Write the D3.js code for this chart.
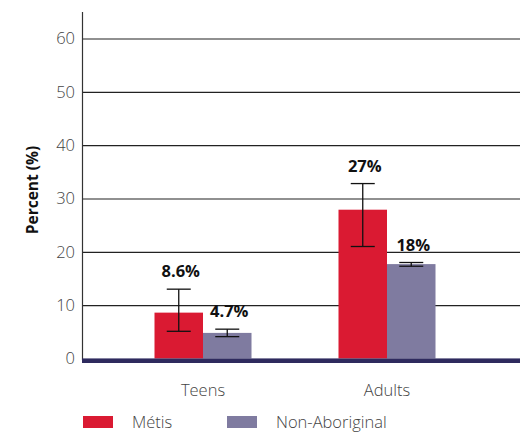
<!DOCTYPE html>
<html><head><meta charset="utf-8">
<script src="https://cdn.jsdelivr.net/npm/d3@7"></script>
<style>body{margin:0;background:#fff}svg{display:block}</style>
</head><body>
<script>
const categories = ["Teens", "Adults"];
const seriesNames = ["Métis", "Non-Aboriginal"];
const metisValues = [8.6, 27.9];
const nonAbValues = [4.8, 17.7];
const metisLow = [5.1, 21.0];
const metisHigh = [13.0, 32.8];
const nonAbLow = [4.1, 17.3];
const nonAbHigh = [5.5, 18.0];
const metisLabels = ["8.6%", "27%"];
const nonAbLabels = ["4.7%", "18%"];
const yTicks = [0, 10, 20, 30, 40, 50, 60];
const colors = ["#DA1A32", "#7F7BA0"];

const W = 520, H = 432;
const svg = d3.select("body").append("svg").attr("width", W).attr("height", H);
const font = "'Open Sans', sans-serif";

const y = d3.scaleLinear().domain([0, 60]).range([358.5, 38.5]);
const groupX = d3.scalePoint().domain(categories).range([203, 387]);
const barW = 48.5;
const xs = d3.scaleBand().domain(seriesNames).range([-barW, barW]).padding(0);

// gridlines
const gy = svg.append("g").attr("transform", "translate(82,0)")
  .call(d3.axisLeft(y).tickValues(yTicks).tickSize(-(W - 82)).tickFormat(d => d));
gy.select(".domain").remove();
gy.selectAll(".tick line").attr("stroke", d => d === 0 ? "#b8b6cc" : "#222").attr("stroke-width", 1.2);
gy.selectAll(".tick text").attr("x", -7).attr("font-family", font).attr("font-weight", 300)
  .attr("font-size", 16.5).attr("fill", "#444");

// y axis line
svg.append("line").attr("x1", 82.5).attr("x2", 82.5).attr("y1", 12).attr("y2", 360)
  .attr("stroke", "#333").attr("stroke-width", 1.2);

const data = categories.map((c, i) => ({
  cat: c,
  items: [
    {s: seriesNames[0], v: metisValues[i], lo: metisLow[i], hi: metisHigh[i], lab: metisLabels[i], col: colors[0]},
    {s: seriesNames[1], v: nonAbValues[i], lo: nonAbLow[i], hi: nonAbHigh[i], lab: nonAbLabels[i], col: colors[1]}
  ]
}));

const g = svg.selectAll(".grp").data(data).enter().append("g")
  .attr("transform", d => `translate(${groupX(d.cat)},0)`);

const item = g.selectAll(".it").data(d => d.items).enter().append("g");
item.append("rect")
  .attr("x", d => xs(d.s)).attr("width", xs.bandwidth())
  .attr("y", d => y(d.v)).attr("height", d => y(0) - y(d.v))
  .attr("fill", d => d.col);

const cx = d => xs(d.s) + xs.bandwidth() / 2;
const cap = 12;
item.append("line").attr("x1", cx).attr("x2", cx).attr("y1", d => y(d.lo)).attr("y2", d => y(d.hi))
  .attr("stroke", "#111").attr("stroke-width", 1.3);
item.append("line").attr("x1", d => cx(d) - cap).attr("x2", d => cx(d) + cap).attr("y1", d => y(d.hi)).attr("y2", d => y(d.hi))
  .attr("stroke", "#111").attr("stroke-width", 1.3);
item.append("line").attr("x1", d => cx(d) - cap).attr("x2", d => cx(d) + cap).attr("y1", d => y(d.lo)).attr("y2", d => y(d.lo))
  .attr("stroke", "#111").attr("stroke-width", 1.3);
item.append("text").attr("x", d => cx(d) + 2).attr("y", d => y(d.hi) - 12)
  .attr("text-anchor", "middle").attr("font-family", font).attr("font-weight", 700)
  .attr("font-size", 16.5).attr("fill", "#111").text(d => d.lab);

// baseline band
svg.append("rect").attr("x", 82).attr("y", y(0)).attr("width", W - 82).attr("height", 4.5).attr("fill", "#2E2A5E");

// x labels
svg.selectAll(".xl").data(categories).enter().append("text")
  .attr("x", d => groupX(d)).attr("y", 396).attr("text-anchor", "middle")
  .attr("font-family", font).attr("font-weight", 300).attr("font-size", 16.5).attr("fill", "#444").text(d => d);

// y title
svg.append("text").attr("transform", "translate(38,190) rotate(-90)").attr("text-anchor", "middle")
  .attr("font-family", font).attr("font-weight", 700).attr("font-size", 15.5).attr("fill", "#111").text("Percent (%)");

// legend
const legX = [83, 227];
const leg = svg.selectAll(".lg").data(seriesNames).enter().append("g")
  .attr("transform", (d, i) => `translate(${legX[i]},416)`);
leg.append("rect").attr("width", 30).attr("height", 12).attr("fill", (d, i) => colors[i]);
leg.append("text").attr("x", 49).attr("y", 11.5).attr("font-family", font).attr("font-weight", 300)
  .attr("font-size", 16.5).attr("fill", "#444").text(d => d);
</script>
</body></html>
